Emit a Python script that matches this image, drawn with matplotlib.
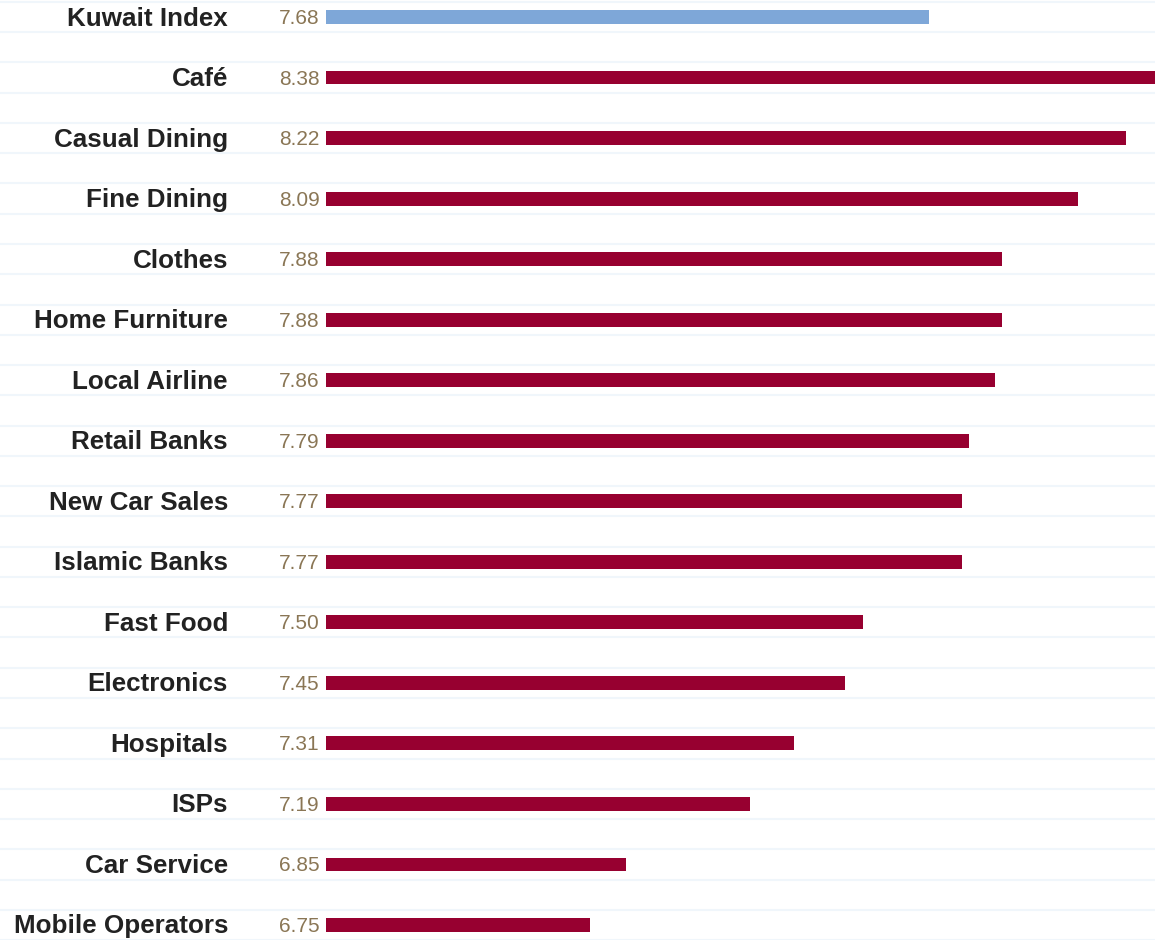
import matplotlib.pyplot as plt

# datos del gráfico
categorias = ['Kuwait Index', 'Café', 'Casual Dining', 'Fine Dining', 'Clothes',
              'Home Furniture', 'Local Airline', 'Retail Banks', 'New Car Sales',
              'Islamic Banks', 'Fast Food', 'Electronics', 'Hospitals', 'ISPs',
              'Car Service', 'Mobile Operators']
valores = [7.68, 8.38, 8.22, 8.09, 7.88, 7.88, 7.86, 7.79, 7.77, 7.77,
           7.50, 7.45, 7.31, 7.19, 6.85, 6.75]
etiquetas = ['7.68', '8.38', '8.22', '8.09', '7.88', '7.88', '7.86', '7.79', '7.77',
             '7.77', '7.50', '7.45', '7.31', '7.19', '6.85', '6.75']

base = 6.026
x_max = 8.30

plt.rcParams['font.family'] = ['Liberation Sans', 'DejaVu Sans']

fig = plt.figure(figsize=(11.55, 9.4), dpi=100)
W, H = 1155, 940
ax = fig.add_axes([326 / W, 0, 1 - 326 / W, 1])

n = len(categorias)
paso = 60.53
ax.set_ylim(15 + 15 / paso, -17 / paso)
ax.set_xlim(base, x_max)

# lineas de fondo
xmin_fig = -326 / (W - 326)
for i in range(n):
    for d in (-0.25, 0.25):
        ax.axhline(i + d, xmin=xmin_fig, xmax=1, color='#f0f6fb', lw=1.5,
                   clip_on=False, zorder=0)

colores = ['#7ea7d8'] + ['#970030'] * (n - 1)
posiciones = list(range(n))
ax.barh(posiciones, [v - base for v in valores], left=base, height=0.23,
        color=colores, zorder=2)

for i in range(n):
    y = 1 - (18.5 + i * paso) / H
    fig.text(228 / W, y, categorias[i], ha='right', va='center',
             fontsize=18.7, fontweight='bold', color='#222222')
    fig.text(319.5 / W, y, etiquetas[i], ha='right', va='center',
             fontsize=15, color='#8a7655')

ax.axis('off')
fig.savefig('out.png', dpi=100)
